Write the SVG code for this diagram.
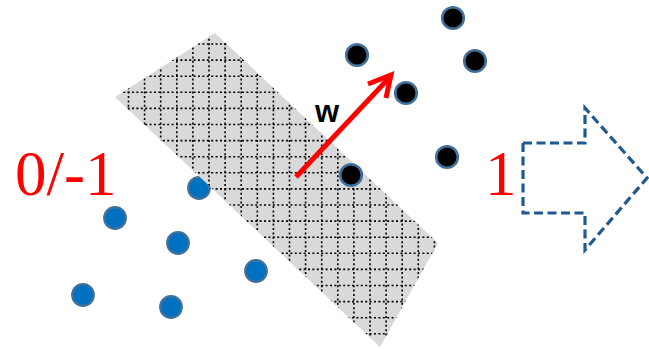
<svg xmlns="http://www.w3.org/2000/svg" width="649" height="349" viewBox="0 0 649 349">
<style>
.blue{fill:#0070C0;stroke:#41719C;stroke-width:2.2}
.black{fill:#000;stroke:#41719C;stroke-width:2.6}
.grid line{stroke:#000;stroke-width:1.6;stroke-dasharray:2 2.4}
.lbl{font-family:"Liberation Serif","Times New Roman",serif;font-size:63px;fill:#FF0000}
</style>
<defs>
<clipPath id="bandclip"><polygon points="215,33 438,243 380,347 115,97"/></clipPath>
</defs>
<rect width="649" height="349" fill="#fff"/>
<g id="dot-b1"><circle class="blue" cx="199" cy="188" r="10.8"/></g>
<g id="band">
<polygon points="215,33 438,243 380,347 115,97" fill="#D9D9D9"/>
<g class="grid" clip-path="url(#bandclip)">
<line x1="128.5" y1="30" x2="128.5" y2="349"/>
<line x1="144.6" y1="30" x2="144.6" y2="349"/>
<line x1="160.7" y1="30" x2="160.7" y2="349"/>
<line x1="176.8" y1="30" x2="176.8" y2="349"/>
<line x1="192.9" y1="30" x2="192.9" y2="349"/>
<line x1="209" y1="30" x2="209" y2="349"/>
<line x1="225.1" y1="30" x2="225.1" y2="349"/>
<line x1="241.2" y1="30" x2="241.2" y2="349"/>
<line x1="257.3" y1="30" x2="257.3" y2="349"/>
<line x1="273.4" y1="30" x2="273.4" y2="349"/>
<line x1="289.5" y1="30" x2="289.5" y2="349"/>
<line x1="305.6" y1="30" x2="305.6" y2="349"/>
<line x1="321.7" y1="30" x2="321.7" y2="349"/>
<line x1="337.8" y1="30" x2="337.8" y2="349"/>
<line x1="353.9" y1="30" x2="353.9" y2="349"/>
<line x1="370" y1="30" x2="370" y2="349"/>
<line x1="386.1" y1="30" x2="386.1" y2="349"/>
<line x1="402.2" y1="30" x2="402.2" y2="349"/>
<line x1="418.3" y1="30" x2="418.3" y2="349"/>
<line x1="434.4" y1="30" x2="434.4" y2="349"/>
<line x1="110" y1="44" x2="440" y2="44"/>
<line x1="110" y1="60.1" x2="440" y2="60.1"/>
<line x1="110" y1="76.2" x2="440" y2="76.2"/>
<line x1="110" y1="92.3" x2="440" y2="92.3"/>
<line x1="110" y1="108.4" x2="440" y2="108.4"/>
<line x1="110" y1="124.5" x2="440" y2="124.5"/>
<line x1="110" y1="140.6" x2="440" y2="140.6"/>
<line x1="110" y1="156.7" x2="440" y2="156.7"/>
<line x1="110" y1="172.8" x2="440" y2="172.8"/>
<line x1="110" y1="188.9" x2="440" y2="188.9"/>
<line x1="110" y1="205" x2="440" y2="205"/>
<line x1="110" y1="221.1" x2="440" y2="221.1"/>
<line x1="110" y1="237.2" x2="440" y2="237.2"/>
<line x1="110" y1="253.3" x2="440" y2="253.3"/>
<line x1="110" y1="269.4" x2="440" y2="269.4"/>
<line x1="110" y1="285.5" x2="440" y2="285.5"/>
<line x1="110" y1="301.6" x2="440" y2="301.6"/>
<line x1="110" y1="317.7" x2="440" y2="317.7"/>
<line x1="110" y1="333.8" x2="440" y2="333.8"/>
</g>
</g>
<g id="dot-b2"><circle class="blue" cx="115" cy="218" r="10.8"/></g>
<g id="dot-b3"><circle class="blue" cx="178" cy="243" r="10.8"/></g>
<g id="dot-b4"><circle class="blue" cx="256" cy="271" r="10.8"/></g>
<g id="dot-b5"><circle class="blue" cx="171" cy="307" r="10.8"/></g>
<g id="dot-b6"><circle class="blue" cx="83" cy="295" r="10.8"/></g>
<g id="dot-k1"><circle class="black" cx="453" cy="18" r="10.8"/></g>
<g id="dot-k2"><circle class="black" cx="475" cy="61" r="10.8"/></g>
<g id="dot-k3"><circle class="black" cx="357" cy="55" r="10.8"/></g>
<g id="dot-k4"><circle class="black" cx="406" cy="93" r="10.8"/></g>
<g id="dot-k5"><circle class="black" cx="447" cy="157" r="10.8"/></g>
<g id="dot-k6"><circle class="black" cx="351" cy="175" r="10.8"/></g>
<g id="connectors">
<g id="w-vector" stroke="#FF0000" stroke-width="5" fill="none">
<line x1="296" y1="177" x2="390" y2="77"/>
<polyline points="368,84 391,75 386,98" stroke-linejoin="miter"/>
</g>
</g>
<g id="w-label"><text x="315" y="122" font-family="'Liberation Sans',Arial,sans-serif" font-weight="bold" font-size="31" fill="#000">w</text></g>
<g id="label-neg"><text class="lbl" x="15" y="195">0/-1</text></g>
<g id="label-pos"><text class="lbl" x="485" y="195">1</text></g>
<g id="big-arrow"><polygon points="523,143 585,143 585,108 647,178 585,250 585,213 523,213" fill="none" stroke="#1F5A8F" stroke-width="3.2" stroke-dasharray="9 4.5"/></g>
</svg>
